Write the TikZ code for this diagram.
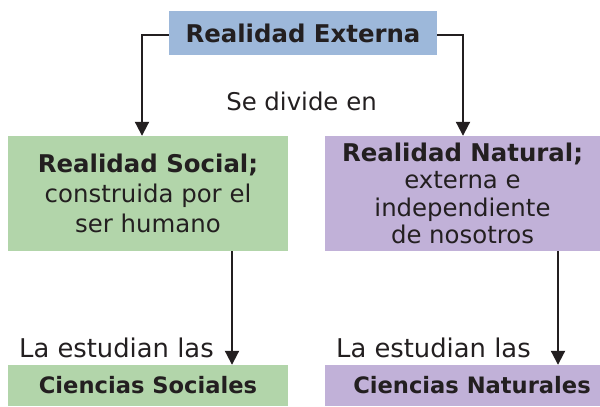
\documentclass[tikz,border=0pt]{standalone}
\usepackage{fontspec}
\setmainfont{DejaVu Sans}
\usetikzlibrary{arrows.meta}
\definecolor{txt}{HTML}{231F20}
\definecolor{blueb}{HTML}{9DB8DA}
\definecolor{greenb}{HTML}{B2D5AA}
\definecolor{purpb}{HTML}{C1B1D8}
\tikzset{
  box/.style={rectangle, inner sep=0pt, align=center, text=txt},
  arr/.style={draw=txt, line width=2pt, -{Triangle[length=14pt,width=14pt]}},
  lbl/.style={inner sep=0pt, text=txt, font=\fontsize{24.4}{28}\selectfont},
}
\begin{document}
\begin{tikzpicture}[x=1pt,y=-1pt]
\useasboundingbox (0,0) rectangle (600,407);
\node[box, fill=blueb, minimum width=268pt, minimum height=44pt,
      font=\fontsize{24.4}{28}\selectfont\bfseries] (top) at (303,33) {Realidad Externa};
\node[box, fill=greenb, minimum width=280pt, minimum height=115pt,
      font=\fontsize{24.4}{30}\selectfont] (social) at (148,193.5)
  {\textbf{Realidad Social;}\\construida por el\\ser humano};
\node[box, fill=purpb, minimum width=275pt, minimum height=115pt,
      font=\fontsize{24.4}{27.5}\selectfont] (natural) at (462.5,193.5)
  {\textbf{Realidad Natural;}\\externa e\\independiente\\de nosotros};
\node[box, fill=greenb, minimum width=280pt, minimum height=41pt,
      font=\fontsize{22.6}{26}\selectfont\bfseries] (cs) at (148,385.5) {Ciencias Sociales};
\node[box, fill=purpb, minimum width=275pt, minimum height=41pt,
      font=\fontsize{22.6}{26}\selectfont\bfseries] (cn) at (462.5,385.5) {\hspace*{19pt}Ciencias Naturales};
\node[lbl, anchor=base] (div) at (301.5,110) {Se divide en};
\node[lbl, anchor=base west, font=\fontsize{25.8}{28}\selectfont] (est1) at (19,357) {La estudian las};
\node[lbl, anchor=base west, font=\fontsize{25.8}{28}\selectfont] (est2) at (336,357) {La estudian las};
\draw[arr] ([yshift=-2pt]top.west) -| ([xshift=-6pt]social.north);
\draw[arr] ([yshift=-2pt]top.east) -| ([xshift=0.5pt]natural.north);
\draw[arr] ([xshift=84pt]social.south) -- ([xshift=84pt]cs.north);
\draw[arr] ([xshift=95.5pt]natural.south) -- ([xshift=95.5pt]cn.north);
\end{tikzpicture}
\end{document}
